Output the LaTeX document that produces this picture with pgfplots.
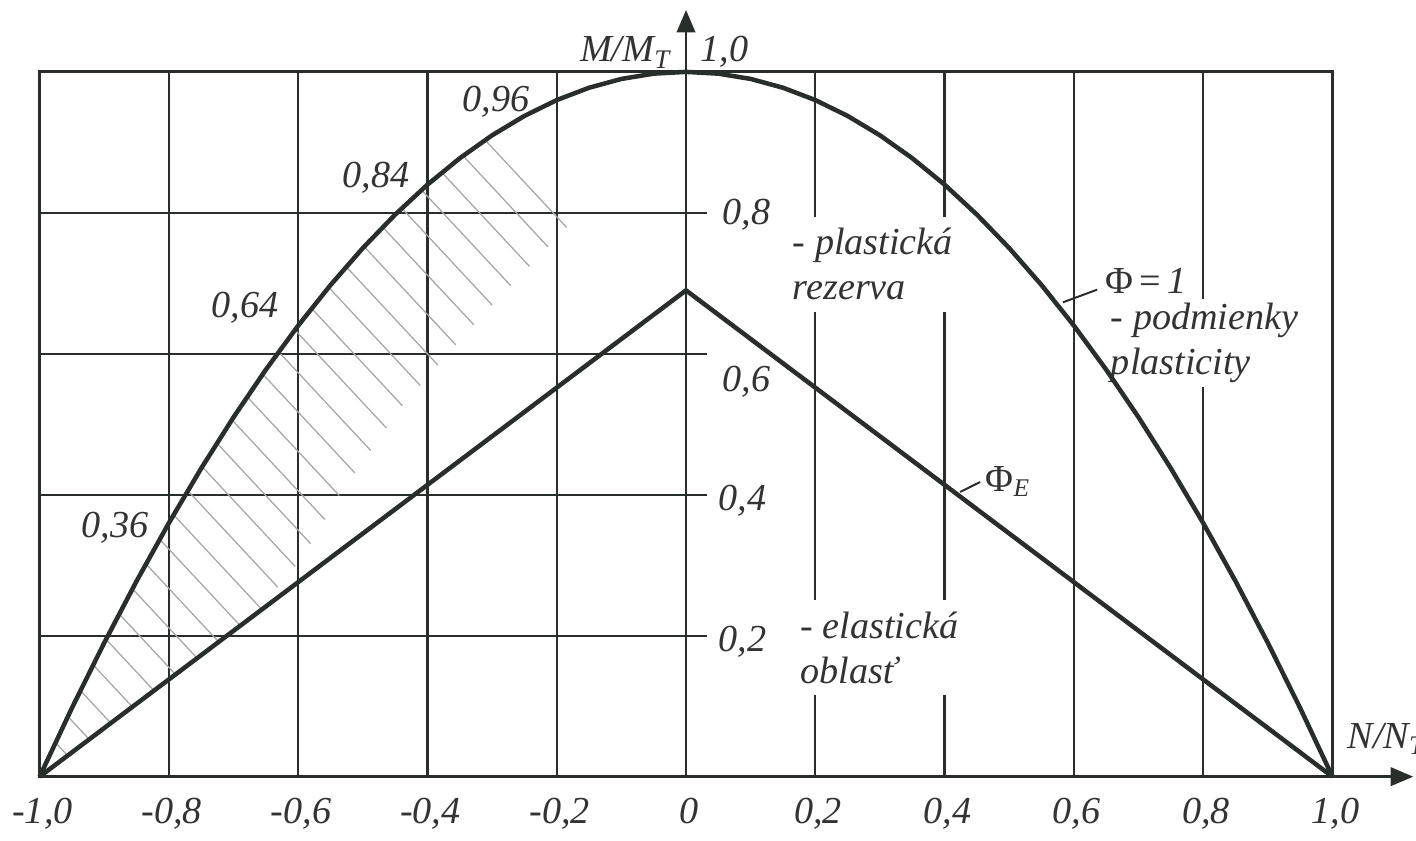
\documentclass[border=0pt]{standalone}
\usepackage{fontspec}
\setmainfont{Liberation Serif}
\usepackage{pgfplots}
\pgfplotsset{compat=1.18}
\usetikzlibrary{arrows.meta,patterns.meta}
\definecolor{ink}{HTML}{2A2E2A}
\definecolor{txt}{HTML}{333333}
\newcommand{\lf}{\fontsize{13.5}{16}\selectfont\itshape}
\begin{document}
\begin{tikzpicture}[font=\lf]
\begin{axis}[
  scale only axis, width=457.3pt, height=249.3pt,
  xmin=-1, xmax=1, ymin=0, ymax=1,
  clip=false,
  xtick={-1,-0.8,-0.6,-0.4,-0.2,0,0.2,0.4,0.6,0.8,1},
  xticklabels={{-1,0},{-0,8},{-0,6},{-0,4},{-0,2},{0},{0,2},{0,4},{0,6},{0,8},{1,0}},
  ytick=\empty,
  major tick length=0pt,
  xmajorgrids,
  grid style={ink, line width=0.8pt},
  axis line style={ink, line width=1pt},
  xticklabel style={font=\lf, text=txt, yshift=-4pt, xshift=1pt},
]
% horizontal grid lines on the left half, ending in a short tick
\draw[ink, line width=0.8pt] (axis cs:-1,0.2) -- (axis cs:0.033,0.2);
\draw[ink, line width=0.8pt] (axis cs:-1,0.4) -- (axis cs:0.033,0.4);
\draw[ink, line width=0.8pt] (axis cs:-1,0.6) -- (axis cs:0.033,0.6);
\draw[ink, line width=0.8pt] (axis cs:-1,0.8) -- (axis cs:0.033,0.8);
% text blocks that interrupt the grid
\node[fill=white, anchor=west, align=left, inner xsep=4pt, inner ysep=4pt, text=txt] at (axis cs:0.147,0.727) {- plastická\\rezerva};
\node[fill=white, anchor=west, align=left, inner xsep=4pt, inner ysep=4pt, text=txt] at (axis cs:0.159,0.183) {- elastická\\oblasť};
\node[fill=white, anchor=west, align=left, inner xsep=4pt, inner ysep=1.5pt, text=txt] at (axis cs:0.639,0.615) {- podmienky\\plasticity};
\node[anchor=base west, inner sep=0pt, text=txt] at (axis cs:0.648,0.686) {{\upshape Φ}\,{\upshape =}\,1};
\node[anchor=base west, inner sep=0pt, text=txt] at (axis cs:0.4626,0.405) {{\upshape Φ}\raisebox{-0.3ex}{\fontsize{9}{9}\selectfont\itshape E}};
% hatched plastic reserve
\addplot[draw=none, pattern={Lines[angle=-47, distance=9.5pt, line width=0.45pt]}, pattern color=gray!70] coordinates {
(-1,0) (-0.95,0.0975) (-0.9,0.19) (-0.85,0.2775) (-0.8,0.36) (-0.75,0.4375)
(-0.7,0.51) (-0.65,0.5775) (-0.6,0.64) (-0.55,0.6975) (-0.5,0.75) (-0.45,0.7975)
(-0.4,0.84) (-0.35,0.8775) (-0.3,0.91)
(-0.184,0.78) (-0.334,0.636) (-0.441,0.524) (-0.535,0.401) (-0.594,0.31) (-0.668,0.229) (-1,0)
};
% interaction curve Phi = 1
\addplot[ink, line width=1.6pt] coordinates {
(-1,0) (-0.95,0.0975) (-0.9,0.19) (-0.85,0.2775) (-0.8,0.36) (-0.75,0.4375)
(-0.7,0.51) (-0.65,0.5775) (-0.6,0.64) (-0.55,0.6975) (-0.5,0.75) (-0.45,0.7975)
(-0.4,0.84) (-0.35,0.8775) (-0.3,0.91) (-0.25,0.9375) (-0.2,0.96) (-0.15,0.9775)
(-0.1,0.99) (-0.05,0.9975) (0,1) (0.05,0.9975) (0.1,0.99) (0.15,0.9775) (0.2,0.96)
(0.25,0.9375) (0.3,0.91) (0.35,0.8775) (0.4,0.84) (0.45,0.7975) (0.5,0.75)
(0.55,0.6975) (0.6,0.64) (0.65,0.5775) (0.7,0.51) (0.75,0.4375) (0.8,0.36)
(0.85,0.2775) (0.9,0.19) (0.95,0.0975) (1,0)
};
% elastic limit Phi_E
\addplot[ink, line width=1.6pt] coordinates {(-1,0) (0,0.69) (1,0)};
% leaders
\draw[ink, line width=0.7pt] (axis cs:0.583,0.673) -- (axis cs:0.636,0.691);
\draw[ink, line width=0.7pt] (axis cs:0.424,0.404) -- (axis cs:0.455,0.418);
% axes arrows
\draw[ink, line width=1pt, -{Triangle[length=8pt, width=6.5pt]}] (axis cs:0,1) -- (axis cs:0,1.088);
\draw[ink, line width=1pt, -{Triangle[length=8pt, width=6.5pt]}] (axis cs:1,0) -- (axis cs:1.125,0);
% labels
\node[anchor=base east, inner sep=0pt, text=txt] at (axis cs:-0.025,1.0142) {M/M\raisebox{-0.35ex}{\fontsize{9.5}{9.5}\selectfont\itshape T}};
\node[anchor=base west, inner sep=0pt, text=txt] at (axis cs:0.0217,1.0142) {1,0};
\node[anchor=base west, inner sep=0pt, text=txt] at (axis cs:1.0226,0.0397) {N/N\raisebox{-0.35ex}{\fontsize{9.5}{9.5}\selectfont\itshape T}};
\node[anchor=base west, inner sep=0pt, text=txt] at (axis cs:0.0557,0.7833) {0,8};
\node[anchor=base west, inner sep=0pt, text=txt] at (axis cs:0.0557,0.5467) {0,6};
\node[anchor=base west, inner sep=0pt, text=txt] at (axis cs:0.0495,0.378) {0,4};
\node[anchor=base west, inner sep=0pt, text=txt] at (axis cs:0.0495,0.177) {0,2};
\node[anchor=base east, inner sep=0pt, text=txt] at (axis cs:-0.2413,0.9433) {0,96};
\node[anchor=base east, inner sep=0pt, text=txt] at (axis cs:-0.427,0.8357) {0,84};
\node[anchor=base east, inner sep=0pt, text=txt] at (axis cs:-0.6296,0.6516) {0,64};
\node[anchor=base east, inner sep=0pt, text=txt] at (axis cs:-0.8308,0.340) {0,36};
\coordinate (bbl) at (axis cs:-1.0613,-0.0907);
\coordinate (btr) at (axis cs:1.1293,1.102);
\end{axis}
\pgfresetboundingbox
\useasboundingbox (bbl) rectangle (btr);
\end{tikzpicture}
\end{document}
